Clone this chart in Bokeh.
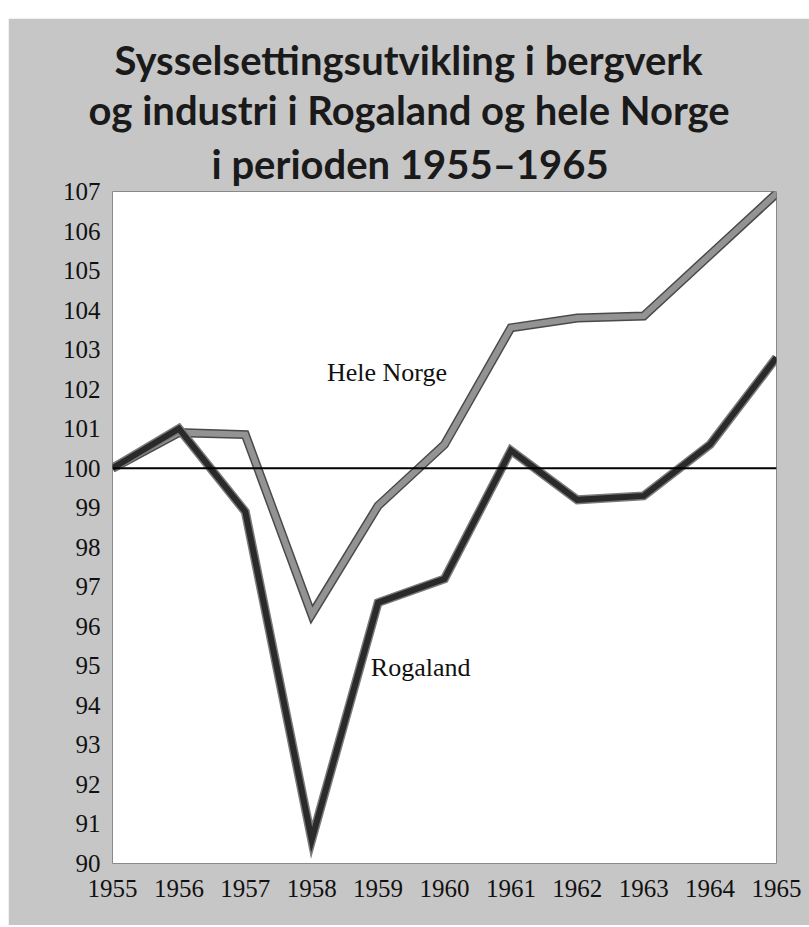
from bokeh.plotting import figure
from bokeh.models import Range1d, FixedTicker, Span, Label, Spacer, Title
from bokeh.layouts import column, row
from bokeh.embed import file_html
from bokeh.resources import INLINE

# ---- data ----
years = [1955, 1956, 1957, 1958, 1959, 1960, 1961, 1962, 1963, 1964, 1965]
hele_norge = [100.0, 100.9, 100.85, 96.3, 99.05, 100.6, 103.55, 103.8, 103.85, 105.4, 106.95]
rogaland = [100.0, 101.0, 98.9, 90.6, 96.6, 97.2, 100.45, 99.2, 99.3, 100.6, 102.8]
y_ticks = list(range(90, 108))
x_ticks = years
title_lines = ["Sysselsettingsutvikling i bergverk",
               "og industri i Rogaland og hele Norge",
               "i perioden 1955\u20131965"]
title_offsets = [2, -24, 99]
series_labels = ["Hele Norge", "Rogaland"]
label_pos = [(1958.23, 102.41), (1958.89, 94.95)]

BG = "#c6c6c6"
SERIF = "Liberation Serif"

p = figure(frame_width=664, frame_height=672,
           x_range=Range1d(1955, 1965), y_range=Range1d(90, 107),
           output_backend="svg", toolbar_location=None,
           min_border_left=104, min_border_right=33,
           min_border_top=173, min_border_bottom=62,
           background_fill_color="white", border_fill_color=BG,
           outline_line_color="#8a8a8a", outline_line_width=1)
p.grid.visible = False

for ax in (p.xaxis[0], p.yaxis[0]):
    ax.axis_line_color = None
    ax.major_tick_line_color = None
    ax.minor_tick_line_color = None
    ax.major_label_text_font = SERIF
    ax.major_label_text_font_size = "25px"
    ax.major_label_text_color = "#111111"
p.xaxis.ticker = FixedTicker(ticks=x_ticks)
p.yaxis.ticker = FixedTicker(ticks=y_ticks)
p.xaxis.major_label_standoff = 10
p.yaxis.major_label_standoff = 6

p.add_layout(Span(location=100, dimension="width", line_color="black", line_width=2))

# Hele Norge: grey line with darker edge
p.line(years, hele_norge, line_color="#4a4a4a", line_width=9, line_join="miter")
p.line(years, hele_norge, line_color="#939393", line_width=6, line_join="miter")
# Rogaland: dark line with grey edge
p.line(years, rogaland, line_color="#7a7a7a", line_width=9, line_join="miter")
p.line(years, rogaland, line_color="#2a2a2a", line_width=6, line_join="miter")

for txt, (lx, ly) in zip(series_labels, label_pos):
    p.add_layout(Label(x=lx, y=ly, text=txt, text_font=SERIF,
                       text_font_size="26px", text_color="#111111",
                       text_baseline="alphabetic", text_align="left"))

# title lines: added nearest-first
for i, (txt, off) in enumerate(reversed(list(zip(title_lines, title_offsets)))):
    p.add_layout(Title(text=txt, align="left", offset=off, text_font="Lato",
                       text_font_size="40px", text_font_style="bold",
                       text_color="#1a1a1a", standoff=(8 if i == 0 else 0)), "above")

layout = column(Spacer(height=18, width=809), row(Spacer(width=8, height=907), p))
open("out.html", "w").write(file_html(layout, INLINE))
